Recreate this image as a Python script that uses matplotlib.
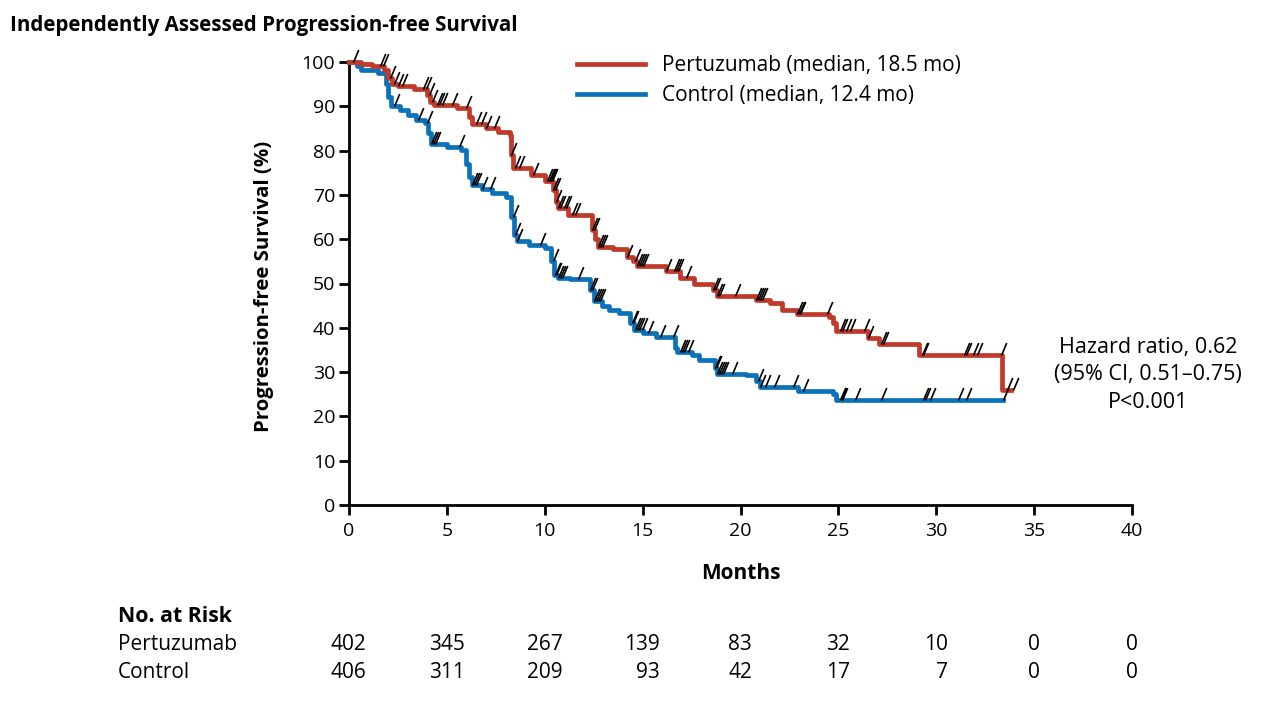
import numpy as np
import matplotlib
matplotlib.use("Agg")
import matplotlib.pyplot as plt
from matplotlib.path import Path
from matplotlib.lines import Line2D
from matplotlib.transforms import blended_transform_factory

plt.rcParams["font.family"] = ["Open Sans", "DejaVu Sans"]

# Kaplan-Meier steps (time in months, survival in %)
pert_t = [0, 0.6, 1.2, 1.8, 2.0, 2.2, 2.5, 3.3, 4.0, 4.15, 4.35, 5.5, 6.15, 6.3, 7.0, 7.6,
          8.2, 8.3, 8.4, 9.3, 10.0, 10.4, 10.55, 10.7, 11.2, 12.4, 12.55, 12.7, 13.5, 14.2,
          14.5, 14.7, 16.2, 16.9, 17.6, 18.6, 18.8, 20.8, 21.5, 22.1, 22.9, 24.5, 24.7,
          24.9, 26.5, 27.1, 29.1, 33.35, 33.8]
pert_s = [100, 99.5, 99, 98.2, 96.5, 95, 94.5, 94, 92.5, 91, 90.2, 89.7, 87.5, 86, 85.2, 84.3,
          83.5, 79, 76, 74.5, 73.2, 71, 68.5, 67, 65.5, 62, 60, 58.3, 57.8, 56,
          55, 54, 52.8, 51.2, 50, 48.5, 47.2, 46.3, 45.5, 44, 43.1, 42.5, 41,
          39.2, 37.6, 36.3, 33.8, 26, 26]

ctrl_t = [0, 0.4, 0.6, 1.5, 1.9, 2.0, 2.15, 2.6, 3.0, 3.4, 3.9, 4.05, 4.2, 5.0, 5.7, 6.0,
          6.15, 6.3, 6.8, 7.3, 8.0, 8.3, 8.45, 8.6, 9.2, 10.0, 10.3, 10.45, 10.7, 11.3, 12.3,
          12.5, 12.9, 13.3, 13.8, 14.35, 14.55, 15.0, 15.7, 16.65, 16.75, 17.5, 17.9, 18.7,
          18.8, 20.3, 20.8, 21.0, 22.95, 24.7, 24.9, 33.4]
ctrl_s = [100, 99, 98.3, 97.6, 95, 92, 90, 89.2, 88, 87, 86.3, 84, 81.5, 80.8, 80.2, 77,
          74, 72.3, 71.4, 70.5, 69.6, 65, 61, 59.5, 58.6, 58, 55, 52, 51.3, 51, 48.5,
          46, 44.9, 44, 43.4, 41, 39.5, 38.9, 38, 35.5, 34.5, 33.8, 32.7, 31,
          29.6, 29.3, 28, 26.6, 25.8, 25, 23.7, 23.7]

# censored observations
pert_cens = [0.2, 1.6, 1.75, 2.1, 2.3, 2.5, 2.7, 3.8, 3.95, 4.1, 4.25, 4.5, 4.6, 4.75, 5.25,
             6.0, 6.5, 6.75, 7.0, 7.4, 8.3, 8.5, 8.7, 9.4, 10.1, 10.2, 10.25, 10.3, 10.35,
             10.4, 10.5, 10.6, 10.7, 10.8, 11.0, 11.1, 11.4, 11.55, 12.4, 12.5, 12.7, 12.8,
             12.9, 14.2, 14.6, 14.7, 14.8, 14.9, 15.0, 16.2, 16.6, 16.7, 16.8, 17.2, 18.6,
             18.7, 18.8, 18.9, 19.7, 20.8, 20.9, 21.0, 21.1, 22.9, 23.0, 23.05, 24.4, 25.1,
             25.2, 25.4, 25.6, 26.3, 26.5, 27.2, 27.3, 29.25, 29.3, 31.4, 31.5, 31.9, 32.1,
             33.3, 33.6, 33.9]
ctrl_cens = [2.3, 3.5, 4.0, 4.2, 4.3, 4.4, 5.6, 6.3, 6.4, 6.5, 6.8, 7.2, 8.4, 8.5, 8.6, 9.75,
             10.4, 10.5, 10.6, 10.7, 10.8, 10.9, 11.7, 12.3, 12.4, 12.5, 12.6, 12.7, 12.8,
             14.45, 14.5, 14.6, 14.7, 14.8, 14.95, 15.3, 15.9, 16.55, 16.9, 17.0, 17.1, 17.3,
             18.7, 18.75, 18.8, 18.9, 19.0, 19.1, 19.55, 20.9, 21.0, 21.25, 21.7, 22.7, 23.2,
             25.1, 25.15, 25.2, 25.85, 27.2, 29.3, 29.4, 29.7, 31.1, 31.5, 33.4]

risk_times = [0, 5, 10, 15, 20, 25, 30, 35, 40]
risk_pert = [402, 345, 267, 139, 83, 32, 10, 0, 0]
risk_ctrl = [406, 311, 209, 93, 42, 17, 7, 0, 0]

labels = ["Pertuzumab (median, 18.5 mo)", "Control (median, 12.4 mo)"]
red = "#C03A2B"
blue = "#0B72B9"


def surv_at(t, times, surv):
    idx = np.searchsorted(times, t, side="right") - 1
    return np.array(surv)[idx]


fig = plt.figure(figsize=(12.68, 7.02), dpi=100)
ax = fig.add_axes([349 / 1268, 1 - 505 / 702, 783 / 1268, 443 / 702])

ax.step(ctrl_t, ctrl_s, where="post", color=blue, lw=3.4, clip_on=False, zorder=3)
ax.step(pert_t, pert_s, where="post", color=red, lw=3.4, clip_on=False, zorder=3)

tick = Path([(0, 0), (0.42, 1)], [Path.MOVETO, Path.LINETO])
for cens, times, surv in [(pert_cens, pert_t, pert_s), (ctrl_cens, ctrl_t, ctrl_s)]:
    ax.plot(cens, surv_at(cens, times, surv), ls="none", marker=tick, ms=18,
            mec="black", mew=1.2, clip_on=False, zorder=4)

ax.set_xlim(0, 40)
ax.set_ylim(0, 100)
ax.set_xticks(range(0, 41, 5))
ax.set_yticks(range(0, 101, 10))
for s in ["top", "right"]:
    ax.spines[s].set_visible(False)
for s in ["left", "bottom"]:
    ax.spines[s].set_linewidth(2.0)
ax.tick_params(axis="both", length=7, width=2.0, labelsize=14)
ax.tick_params(axis="x", pad=5)
ax.tick_params(axis="y", pad=3)

ax.set_ylabel("Progression-free Survival (%)", fontsize=14.7, fontweight="bold")
ax.yaxis.set_label_coords(-0.096, 0.494)
ax.set_xlabel("Months", fontsize=15, fontweight="bold")
ax.xaxis.set_label_coords(0.5, -0.131)

handles = [Line2D([], [], color=red, lw=3.4), Line2D([], [], color=blue, lw=3.4)]
ax.legend(handles, labels, loc="upper left", bbox_to_anchor=(0.291, 1.016), frameon=False,
          fontsize=15, handlelength=3.27, handletextpad=0.82, labelspacing=0.44,
          borderpad=0, borderaxespad=0)

ax.text(1.0204, 0.2935, "Hazard ratio, 0.62\n(95% CI, 0.51\u20130.75)\nP<0.001",
        transform=ax.transAxes, ha="center", va="center", multialignment="center",
        fontsize=15.5, linespacing=1.38)

fig.text(10 / 1268, 1 - 26 / 702, "Independently Assessed Progression-free Survival",
         fontsize=14.8, fontweight="bold", va="center", ha="left")

# number at risk
fig.text(118 / 1268, 1 - 616 / 702, "No. at Risk", fontsize=15.3, fontweight="bold", va="center")
trans = blended_transform_factory(ax.transData, fig.transFigure)
for row, (name, vals) in enumerate([("Pertuzumab", risk_pert), ("Control", risk_ctrl)]):
    yy = 1 - (645 + 27 * row) / 702
    fig.text(118 / 1268, yy, name, fontsize=15, va="center")
    for t, a, b, v in zip(risk_times, risk_pert, risk_ctrl, vals):
        w = max(len(str(a)), len(str(b)))
        ax.text(t + w * 0.3, yy, str(v), transform=trans, ha="right", va="center",
                fontsize=15, clip_on=False)

fig.savefig("out.png", dpi=100)
